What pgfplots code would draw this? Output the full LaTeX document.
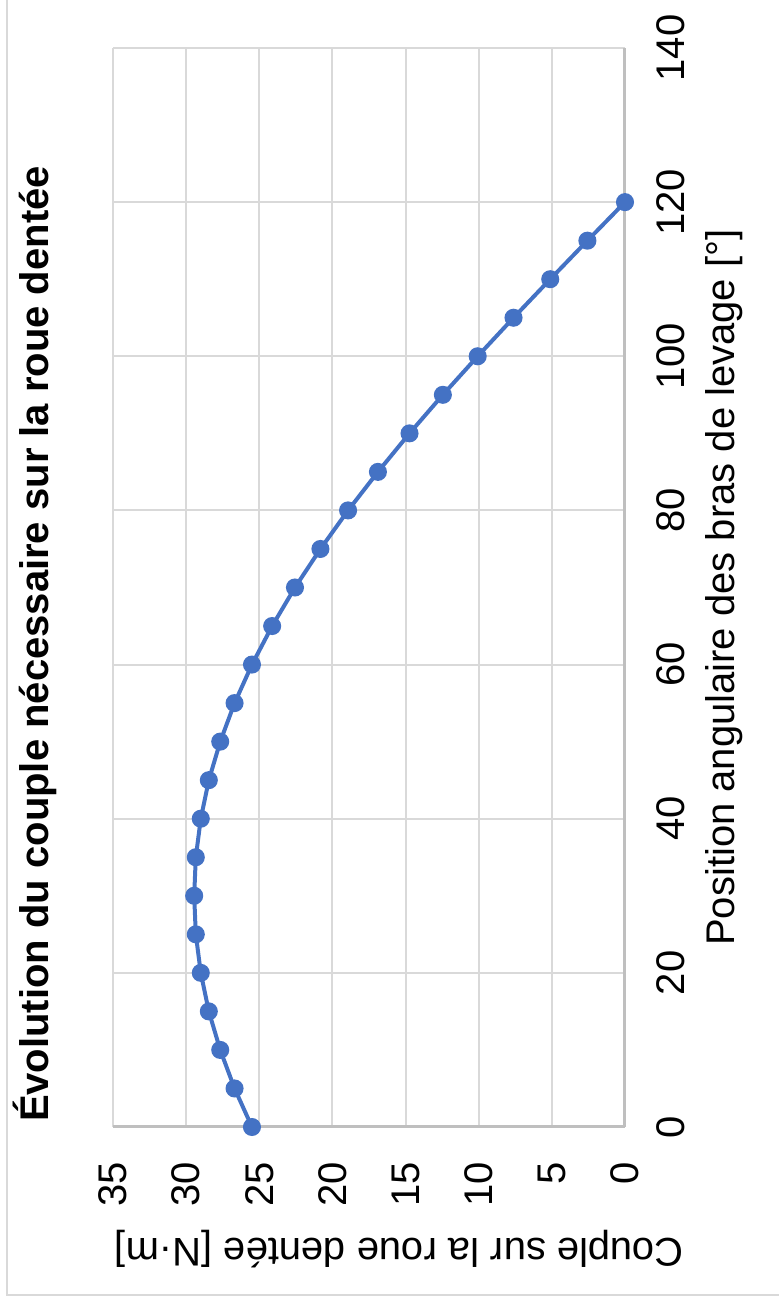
\documentclass[border=0pt]{standalone}
\usepackage{fontspec}
\setmainfont{Liberation Sans}
\usepackage{graphicx}
\usepackage{pgfplots}
\pgfplotsset{compat=1.18}

\definecolor{serie}{HTML}{4472C4}
\definecolor{grille}{HTML}{D9D9D9}
\definecolor{axe}{HTML}{BFBFBF}

\newcommand{\police}{\fontsize{20pt}{24pt}\selectfont}

\begin{document}
\rotatebox{90}{%
\begin{tikzpicture}
	% cadre du graphique (1 px = 0.5 pt)
	\useasboundingbox (0,0) rectangle (653.5pt,389.5pt);
	\begin{axis}[
		at={(90pt,77pt)},
		anchor=south west,
		scale only axis,
		width=539.5pt,
		height=256pt,
		xmin=0, xmax=140,
		ymin=0, ymax=35,
		xtick={0,20,...,140},
		ytick={0,5,...,35},
		enlargelimits=false,
		clip=false,
		axis lines*=left,
		axis line style={draw=axe, line width=1.5pt, -},
		major tick length=0pt,
		grid=major,
		grid style={draw=grille, line width=1pt},
		/pgf/number format/assume math mode=true,
		tick label style={font=\police, text=black},
		xticklabel style={anchor=base, yshift=-30pt},
		yticklabel style={anchor=east, inner sep=0pt, xshift=-17.5pt},
		title={\textbf{Évolution du couple nécessaire sur la roue dentée}},
		title style={font=\police, at={(axis description cs:0.4476,1.1035)}, anchor=base},
		xlabel={Position angulaire des bras de levage [°]},
		xlabel style={font=\police, at={(axis description cs:0.5,-0.2148)}, anchor=base},
		ylabel={Couple sur la roue dentée [N·m]},
		ylabel style={font=\police, at={(axis description cs:-0.1029,0.441)}, anchor=base},
		]
		\addplot[color=serie, line width=2pt, mark=*, mark size=3.5pt,
			mark options={solid, fill=serie, draw=serie}] coordinates {
			(0,25.50) (5,26.69) (10,27.67) (15,28.45) (20,29.00)
			(25,29.34) (30,29.45) (35,29.34) (40,29.00) (45,28.45)
			(50,27.67) (55,26.69) (60,25.50) (65,24.12) (70,22.56)
			(75,20.82) (80,18.93) (85,16.89) (90,14.73) (95,12.45)
			(100,10.07) (105,7.62) (110,5.11) (115,2.57) (120,0)
		};
	\end{axis}
	\draw[grille, line width=1pt] (6pt,0) -- (6pt,386pt) -- (653.5pt,386pt);
\end{tikzpicture}%
}
\end{document}
